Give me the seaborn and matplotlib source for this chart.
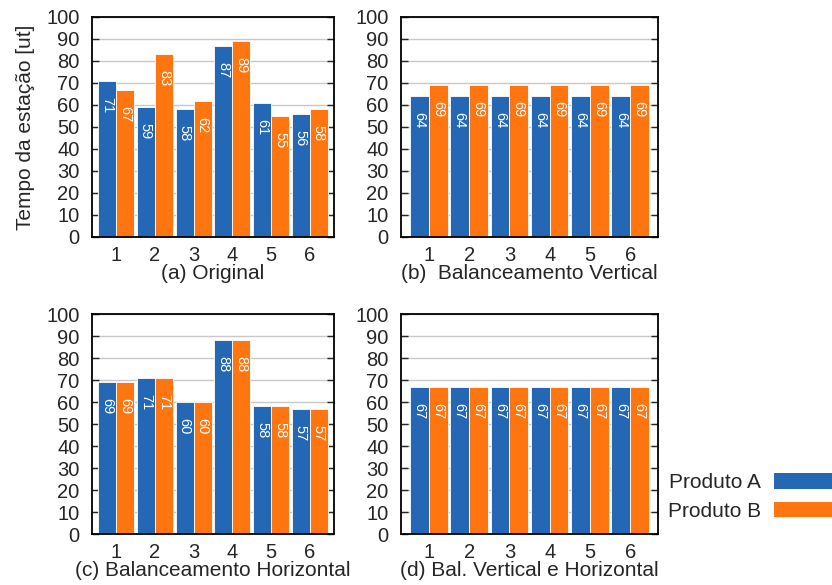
import pandas as pd
import numpy as np
import matplotlib
matplotlib.use("Agg")
import matplotlib.pyplot as plt
from matplotlib.patches import Patch
import seaborn as sns

# dados
estacoes = ["1", "2", "3", "4", "5", "6"]
produtos = ["Produto A", "Produto B"]

orig_a = [71, 59, 58, 87, 61, 56]
orig_b = [67, 83, 62, 89, 55, 58]
vert_a = [64, 64, 64, 64, 64, 64]
vert_b = [69, 69, 69, 69, 69, 69]
horiz_a = [69, 71, 60, 88, 58, 57]
horiz_b = [69, 71, 60, 88, 58, 57]
ambos_a = [67, 67, 67, 67, 67, 67]
ambos_b = [67, 67, 67, 67, 67, 67]

titulos = ["(a) Original", "(b)  Balanceamento Vertical",
           "(c) Balanceamento Horizontal", "(d) Bal. Vertical e Horizontal"]
y_ticks = list(range(0, 101, 10))

cores = {"Produto A": "#2468b5", "Produto B": "#ff7510"}

sns.set_style("white")
plt.rcParams["font.family"] = ["Liberation Sans", "DejaVu Sans"]


def monta_df(va, vb):
    return pd.DataFrame({
        "Estação": estacoes * 2,
        "Tempo": va + vb,
        "Produto": [produtos[0]] * len(va) + [produtos[1]] * len(vb),
    })


paineis = [
    (monta_df(orig_a, orig_b), [92, 17, 334, 237], 0.125),
    (monta_df(vert_a, vert_b), [401, 17, 658, 237], 0.19),
    (monta_df(horiz_a, horiz_b), [92, 314, 334, 534], 0.125),
    (monta_df(ambos_a, ambos_b), [401, 314, 658, 534], 0.19),
]

W, H = 832, 585
fig = plt.figure(figsize=(W / 100, H / 100), dpi=100)

for i, (df, (x0, y0, x1, y1), m) in enumerate(paineis):
    ax = fig.add_axes([x0 / W, (H - y1) / H, (x1 - x0) / W, (y1 - y0) / H])
    sns.barplot(data=df, x="Estação", y="Tempo", hue="Produto", order=estacoes,
                hue_order=produtos, palette=cores, width=0.93, saturation=1,
                edgecolor="white", linewidth=0.6, legend=False, ax=ax, zorder=2)
    ax.set_xlim(-0.5 - m, 5.5 + m)
    ax.set_ylim(0, 100)
    ax.set_yticks(y_ticks)
    ax.yaxis.grid(True, color="#c8c8c8", linewidth=1.0, zorder=0)
    ax.set_axisbelow(True)
    for s in ax.spines.values():
        s.set_color("black")
        s.set_linewidth(1.3)
    ax.tick_params(axis="y", direction="in", length=5, width=1, right=True,
                   left=True, labelsize=14.5, pad=9)
    ax.tick_params(axis="x", length=0, labelsize=14.5, pad=6.5)

    for cont in ax.containers:
        for p in cont:
            h = p.get_height()
            ax.annotate(f"{h:.0f}", (p.get_x() + p.get_width() / 2, h),
                        xytext=(0, -11.5), textcoords="offset points",
                        ha="center", va="top", rotation=270,
                        color="white", fontsize=10.5, zorder=3)

    ax.set_xlabel(titulos[i], fontsize=15, labelpad=-0.5)
    if i == 0:
        ax.set_ylabel("Tempo da estação [ut]", fontsize=15, labelpad=8)
    else:
        ax.set_ylabel("")

handles = [Patch(facecolor=cores[p], edgecolor="none") for p in produtos]
fig.legend(handles, produtos, loc="center left", bbox_to_anchor=(668 / W, (H - 497) / H),
           frameon=False, fontsize=15, markerfirst=False, handlelength=3.5,
           handleheight=0.75, handletextpad=0.6, labelspacing=0.45,
           borderpad=0, borderaxespad=0)

fig.savefig("out.png", dpi=100)
